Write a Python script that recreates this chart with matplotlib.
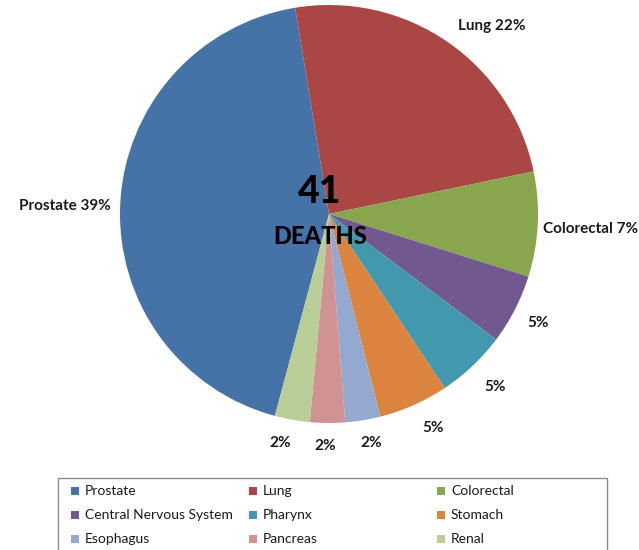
import numpy as np
import matplotlib
matplotlib.use("Agg")
import matplotlib.pyplot as plt
from matplotlib.patches import Rectangle

# ---- data ----
categories = ["Prostate", "Lung", "Colorectal", "Central Nervous System", "Pharynx",
              "Stomach", "Esophagus", "Pancreas", "Renal"]
deaths = [16, 9, 3, 2, 2, 2, 1, 1, 1]
total_deaths = 41
show_name = [True, True, True, False, False, False, False, False, False]
colors = ["#4572A7", "#AA4643", "#89A54E", "#71588F", "#4198AF",
          "#DB843D", "#93A9CF", "#D19392", "#B9CD96"]

# layout fine-tuning for the outside-end data labels (pixels, x right / y down)
label_nudge = [(0, 3), (20, -2), (-5, 4), (5, 6), (8, 9), (11, 7), (5, 6), (-2, 6), (-8, 7)]

W, H = 639, 550
fig = plt.figure(figsize=(W / 100, H / 100), dpi=100)
ax = fig.add_axes([0, 0, 1, 1])

cx, cy, R = 329, 336, 209
wedges, _ = ax.pie(deaths, colors=colors, startangle=-105, counterclock=False,
                   center=(cx, cy), radius=R, wedgeprops=dict(linewidth=0))
ax.set_xlim(0, W)
ax.set_ylim(0, H)
ax.set_aspect("equal")
ax.axis("off")

font_b = dict(family=["Lato", "DejaVu Sans"], fontweight="bold", color="#1a1a1a")

# data labels outside end
labels = []
for name, d, sn in zip(categories, deaths, show_name):
    pct = int(round(d / total_deaths * 100))
    labels.append(f"{name} {pct}%" if sn else f"{pct}%")

texts = []
for w, lab in zip(wedges, labels):
    th = np.deg2rad((w.theta1 + w.theta2) / 2)
    t = ax.text(0, 0, lab, ha="center", va="center", fontsize=11, **font_b)
    texts.append((t, th))

fig.canvas.draw()
renderer = fig.canvas.get_renderer()
gap = 10
for (t, th), (nx, ny) in zip(texts, label_nudge):
    bb = t.get_window_extent(renderer)
    tw, thh = bb.width, bb.height
    px = cx + (R + gap) * np.cos(th) + 0.5 * tw * np.cos(th) + nx
    py = cy + (R + gap) * np.sin(th) + 0.5 * thh * np.sin(th) - ny
    t.set_position((px, py))

# center text
font_c = dict(family=["Lato", "DejaVu Sans"], fontweight=900, color="black")
ax.text(320, H - 192, str(total_deaths), ha="center", va="center", fontsize=27, **font_c)
ax.text(320, H - 236, "DEATHS", ha="center", va="center", fontsize=17, **font_c)

# legend (manual, Excel style)
ax.add_patch(Rectangle((58, H - 560), 549, 82, fill=False, edgecolor="#8c8c8c",
                       linewidth=1.0, clip_on=False))
col_x = [71, 249, 437]
row_y = [491, 515, 539]
for i, (name, c) in enumerate(zip(categories, colors)):
    x = col_x[i % 3]
    y = H - row_y[i // 3]
    ax.add_patch(Rectangle((x, y - 4), 8, 8, facecolor=c, edgecolor="none"))
    ax.text(x + 14, y, name, ha="left", va="center", fontsize=10,
            family=["Lato", "DejaVu Sans"], color="#1a1a1a")

fig.savefig("out.png", dpi=100)
